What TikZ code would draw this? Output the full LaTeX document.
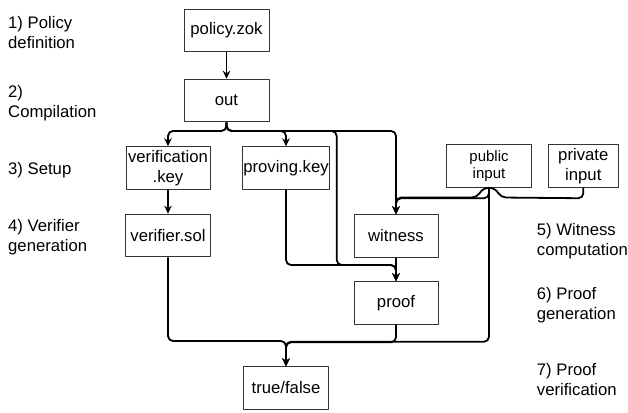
\documentclass[tikz,border=0pt]{standalone}
\usepackage{fontspec}
\setmainfont{Liberation Sans}
\usetikzlibrary{arrows.meta}
\begin{document}
\begin{tikzpicture}[x=1bp,y=-1bp,>={Stealth[length=8bp,width=7.5bp]},line join=round,
  box/.style={draw=black!80,line width=1bp,minimum width=85bp,minimum height=42.5bp,
    inner sep=1bp,align=center,font=\fontsize{16.7bp}{19.5bp}\selectfont},
  note/.style={anchor=base west,align=left,inner sep=0pt,
    font=\fontsize{16.7bp}{19.5bp}\selectfont},
  flow/.style={->,line width=1.8bp,rounded corners=5bp}]
  \useasboundingbox (0,0) rectangle (628,412);
  % Steps
  \node[note] (s1) at (8,48.3) {1) Policy\\definition};
  \node[note] (s2) at (8,117) {2)\\Compilation};
  \node[note] (s3) at (8,174) {3) Setup};
  \node[note] (s4) at (8,251) {4) Verifier\\generation};
  \node[note] (s5) at (536.7,255) {5) Witness\\computation};
  \node[note] (s6) at (536.7,319) {6) Proof\\generation};
  \node[note] (s7) at (536.7,395) {7) Proof\\verification};
  % Files
  \node[box] (policy) at (226.5,30.5) {policy.zok};
  \node[box] (out) at (226.5,100.5) {out};
  \node[box,minimum width=84bp] (vkey) at (168,168) {verification\\.key};
  \node[box] (pkey) at (286,168) {proving.key};
  \node[box] (vsol) at (168,235.5) {verifier.sol};
  \node[box,minimum width=84bp] (witness) at (396,236) {witness};
  \node[box,minimum width=84bp] (proof) at (396,303) {proof};
  \node[box] (tf) at (286,388) {true/false};
  \node[box,font=\fontsize{15bp}{17bp}\selectfont] (pub) at (489,166) {public\\input};
  \node[box,minimum width=70bp] (priv) at (583.3,166) {private\\input};
  % Edges
  \draw[flow] (policy) -- (out);
  \draw[flow] (out.south) -- ++(0,8.7) -| (vkey.north);
  \draw[flow] (out.south) -- ++(0,8.7) -| (pkey.north);
  \draw[flow] (out.south) -- ++(0,8.7) -| (336.7,265) -| (proof.north);
  \draw[flow] (out.south) -- ++(0,8.7) -| (witness.north);
  \draw[flow] (vkey) -- (vsol);
  \draw[flow] (pkey.south) |- (proof.north |- 0,265) -- (proof.north);
  \draw[flow] (witness) -- (proof);
  \draw[flow] (pub.south) -- ++(0,10.5) -| (witness.north);
  \draw[flow] (priv.south) -- ++(0,10.5) -- (501,197.5)
    .. controls (494,186) and (484,186) .. (477,197.5) -| (witness.north);
  \draw[flow] (vsol.south) |- (tf.north |- 0,341) -- (tf.north);
  \draw[flow] (proof.south) -- ++(0,17.5) -| (tf.north);
  \draw[flow] (pub.south) -- ++(0,154) -| (tf.north);
\end{tikzpicture}
\end{document}
